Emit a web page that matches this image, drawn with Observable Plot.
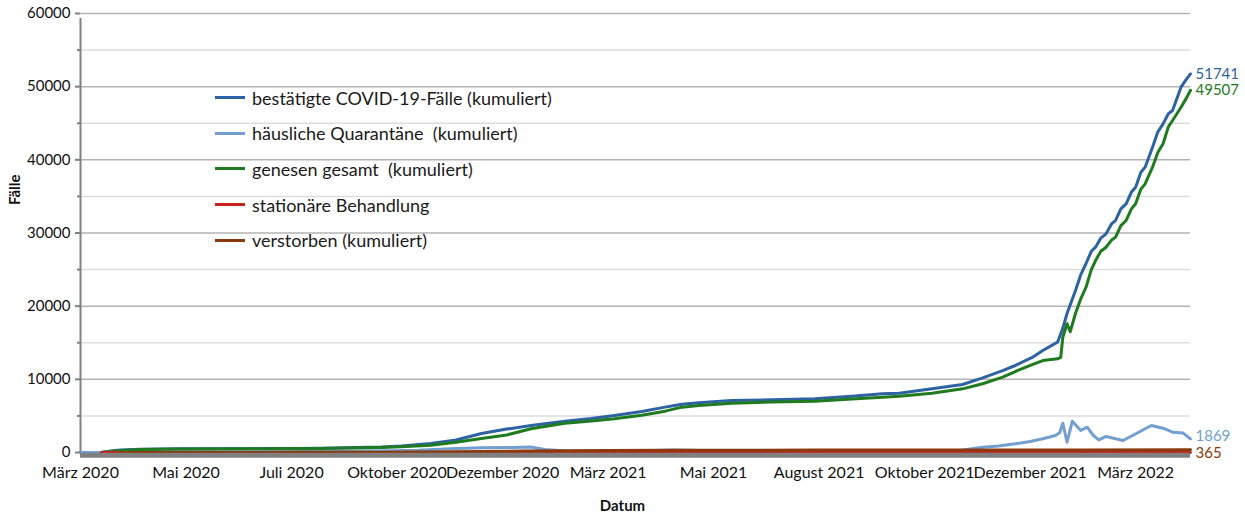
<!DOCTYPE html>
<html>
<head>
<meta charset="utf-8">
<script src="https://cdn.jsdelivr.net/npm/d3@7"></script>
<script src="https://cdn.jsdelivr.net/npm/@observablehq/plot@0.6"></script>
<style>
  html, body { margin: 0; padding: 0; background: #fff; }
  #wrap { position: relative; width: 1245px; height: 517px; font-family: Lato, sans-serif; }
  #legend { position: absolute; left: 215px; top: 80px; font-size: 18px; color: #1a1a1a; }
  #legend .row { height: 35.6px; display: flex; align-items: center; white-space: pre; }
  #legend .sw { width: 30px; height: 3px; margin-right: 7px; }
</style>
</head>
<body>
<div id="wrap"><div id="legend"></div></div>
<script>
// ---- Category positions (x index; tick labels every 10 steps) ----
const tickPos = [0, 10, 20, 30, 40, 50, 60, 70, 80, 90, 100];
const tickLabels = ["März 2020", "Mai 2020", "Juli 2020", "Oktober 2020", "Dezember 2020",
  "März 2021", "Mai 2021", "August 2021", "Oktober 2021", "Dezember 2021", "März 2022"];
const xEnd = 105.2;

// ---- Series names & colours ----
const seriesNames = ["bestätigte COVID-19-Fälle (kumuliert)", "häusliche Quarantäne  (kumuliert)",
  "genesen gesamt  (kumuliert)", "stationäre Behandlung", "verstorben (kumuliert)"];
const seriesColors = ["#2d62a3", "#729fcf", "#1e7b1e", "#c9211e", "#8b3a0e"];

// ---- bestätigte Fälle ----
const confT = [0, 1.9, 2.85, 3.8, 5.7, 9.5, 16.1, 22.8, 28.5, 30.4, 33.2, 35.6, 38, 40.4, 42.7, 45.9, 48.4,
  50.6, 53.2, 55.4, 57, 58.6, 61.7, 65.5, 69.6, 73.1, 76, 77.6, 80.7, 83.6, 85.5, 87.4, 88.6, 90.2, 91.2,
  92.6, 93.1, 93.5, 94.3, 94.8, 95.3, 95.8, 96.2, 96.7, 97.2, 97.7, 98.1, 98.6, 99.1, 99.6, 100, 100.5,
  100.9, 101.6, 102.1, 102.6, 103.1, 103.5, 104.3, 104.8, 105.2];
const confV = [0, 0, 200, 350, 450, 500, 520, 580, 750, 900, 1230, 1700, 2600, 3200, 3700, 4280, 4650,
  5060, 5600, 6200, 6600, 6790, 7100, 7200, 7340, 7700, 8020, 8100, 8700, 9300, 10200, 11200, 11890, 13000, 13940,
  15080, 17000, 19000, 22140, 24300, 25830, 27500, 28060, 29300, 29890, 31200, 31710, 33300, 33990, 35600, 36260, 38300,
  39000, 41730, 43800, 44920, 46300, 46740, 49930, 51000, 51741];

// ---- häusliche Quarantäne ----
const quarT = [0, 2, 4, 8, 15, 22, 28, 32, 35, 38, 41, 42.7, 44, 46, 50, 54, 56, 58, 60, 65, 70, 75, 80, 83,
  85.5, 87, 88.6, 90, 91.2, 92.4, 92.8, 93.1, 93.5, 94, 94.8, 95.4, 96, 96.5, 97.2, 98.8, 99.9, 100.9, 101.5,
  102.6, 103.5, 104.5, 105.2];
const quarV = [0, 0, 120, 150, 100, 150, 200, 300, 500, 650, 700, 750, 400, 200, 150, 250, 350, 300, 150, 100,
  50, 0, 50, 200, 730, 900, 1190, 1500, 1870, 2320, 2700, 4000, 1400, 4280, 3000, 3460, 2320, 1730, 2190, 1640,
  2460, 3240, 3690, 3320, 2780, 2650, 1869];

// ---- genesen gesamt ----
const recT = [2, 3.8, 5.7, 9.5, 16.1, 22.8, 28.5, 30.4, 33.2, 35.6, 38, 40.4, 42.7, 45.9, 48.4, 50.6, 53.2,
  55.4, 57, 58.6, 61.7, 65.5, 69.6, 73.1, 76, 77.6, 80.7, 83.6, 85.5, 87.4, 88.6, 90.2, 91.2, 92.6, 92.9,
  93.1, 93.5, 93.8, 94.3, 94.8, 95.3, 95.8, 96.2, 96.7, 97.2, 97.7, 98.1, 98.6, 99.1, 99.6, 100, 100.5,
  100.9, 101.6, 102.1, 102.6, 103.1, 103.5, 104.3, 104.8, 105.2];
const recV = [0, 250, 420, 480, 500, 560, 680, 780, 1000, 1400, 1900, 2400, 3240, 4000, 4300, 4600, 5100,
  5650, 6200, 6420, 6740, 6900, 7010, 7300, 7560, 7700, 8100, 8700, 9390, 10300, 11070, 12000, 12570, 12800, 13000,
  15760, 17600, 16500, 19000, 21000, 22590, 25000, 26240, 27500, 28060, 29000, 29430, 31000, 31710, 33300, 33990, 36000,
  36720, 39000, 41000, 42190, 44500, 45370, 47190, 48400, 49507];

// ---- stationäre Behandlung ----
const statT = [2, 10, 30, 40, 50, 60, 80, 90, 95, 100, 105.2];
const statV = [0, 5, 10, 20, 15, 8, 8, 20, 25, 20, 15];

// ---- verstorben ----
const deadT = [3.8, 10, 20, 28, 33, 38, 42, 46, 50, 55, 60, 70, 80, 90, 95, 105.2];
const deadV = [0, 10, 20, 30, 60, 130, 190, 240, 280, 310, 320, 325, 330, 340, 350, 365];

// ---- y ticks ----
const yMajor = [0, 10000, 20000, 30000, 40000, 50000, 60000];
const yMinor = [5000, 15000, 25000, 35000, 45000, 55000];

const seriesT = [confT, quarT, recT, statT, deadT];
const seriesV = [confV, quarV, recV, statV, deadV];
const rows = [];
seriesNames.forEach((name, k) => seriesT[k].forEach((t, i) => rows.push({series: name, t, v: seriesV[k][i]})));
const lastPts = seriesNames.map((name, k) => ({series: name, t: seriesT[k][seriesT[k].length - 1], v: seriesV[k][seriesV[k].length - 1]}));
const endLabels = [lastPts[0], lastPts[2], lastPts[1], lastPts[4]];
const endDy = [0, 0, -3, 3];

const colorOf = Object.fromEntries(seriesNames.map((n, i) => [n, seriesColors[i]]));

const chart = Plot.plot({
  width: 1245,
  height: 517,
  marginLeft: 80,
  marginRight: 55,
  marginTop: 13,
  marginBottom: 65,
  style: {fontFamily: "Lato, sans-serif", fontSize: "15px", color: "#111", background: "#fff"},
  x: {domain: [0, xEnd], axis: null},
  y: {domain: [0, 60000], axis: null},
  marks: [
    Plot.ruleY(yMinor, {x1: 0, x2: xEnd, stroke: "#dddddd", strokeWidth: 1.5}),
    Plot.ruleY(yMajor, {x1: 0, x2: xEnd, stroke: "#b3b3b3", strokeWidth: 1.5}),
    Plot.axisY(yMajor, {tickSize: 5, tickPadding: 5, stroke: "#808080", strokeWidth: 2, fontSize: 15, fill: "#111", tickFormat: d => String(d), label: null}),
    Plot.axisY(yMinor, {tickSize: 3, stroke: "#808080", strokeWidth: 2, text: null, label: null}),
    Plot.ruleX([0], {y1: 0, y2: 60000, stroke: "#808080", strokeWidth: 2, insetBottom: -5}),
    ...seriesNames.map((name, k) => Plot.line(rows.filter(r => r.series === name), {
      x: "t", y: "v", stroke: seriesColors[k], strokeWidth: 3, strokeLinejoin: "round"
    })),
    Plot.ruleY([0], {x1: 0, x2: xEnd, stroke: "#808080", strokeWidth: 5, dy: 2.7}),
    Plot.axisX(tickPos, {tickSize: 0, tickPadding: 14, tickFormat: (d, i) => tickLabels[i], fontSize: 16, fill: "#111", label: null}),
    ...endLabels.map((p, i) => Plot.text([p], {x: "t", y: "v", text: d => String(d.v), fill: colorOf[p.series], textAnchor: "start", dx: 5, dy: endDy[i], fontSize: 15})),
    Plot.text(["Fälle"], {frameAnchor: "left", rotate: -90, dx: -65, dy: -28, fontWeight: "bold", fontSize: 15, fill: "#111"}),
    Plot.text(["Datum"], {frameAnchor: "bottom", dx: -13, dy: 58, fontWeight: "bold", fontSize: 15, fill: "#111"})
  ]
});

const wrap = document.getElementById("wrap");
wrap.insertBefore(chart, wrap.firstChild);
const legend = document.getElementById("legend");
seriesNames.forEach((n, i) => {
  const row = document.createElement("div");
  row.className = "row";
  const sw = document.createElement("span");
  sw.className = "sw";
  sw.style.background = seriesColors[i];
  const lab = document.createElement("span");
  lab.textContent = n;
  row.appendChild(sw); row.appendChild(lab);
  legend.appendChild(row);
});
</script>
</body>
</html>
